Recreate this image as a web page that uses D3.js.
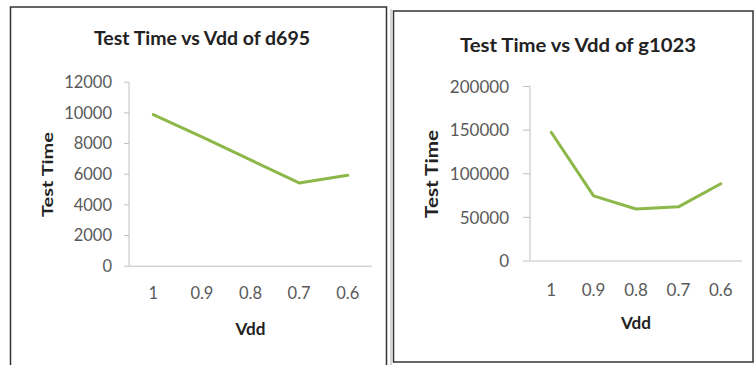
<!DOCTYPE html>
<html>
<head>
<meta charset="utf-8">
<script src="https://cdn.jsdelivr.net/npm/d3@7"></script>
<style>
  html, body { margin: 0; padding: 0; background: #fff; }
  svg { display: block; }
  text { font-family: Lato, "Open Sans", sans-serif; }
</style>
</head>
<body>
<svg id="chart" width="755" height="365"></svg>
<script>
// Supply voltage steps shared by both panels
const categories = ["1", "0.9", "0.8", "0.7", "0.6"];

// Test time per Vdd for circuit d695
const d695Values = [9850, 8400, 6900, 5400, 5900];
const d695Ticks = [0, 2000, 4000, 6000, 8000, 10000, 12000];

// Test time per Vdd for circuit g1023
const g1023Values = [147000, 74000, 59000, 61500, 88000];
const g1023Ticks = [0, 50000, 100000, 150000, 200000];

const titles = ["Test Time vs Vdd of d695", "Test Time vs Vdd of g1023"];
const yAxisTitle = "Test Time";
const xAxisTitle = "Vdd";

const LINE = "#8cb84a";
const AXIS = "#c0c0c0";
const TICKTXT = "#595959";
const DARK = "#222";

const svg = d3.select("#chart");

// Panel frames
const frames = svg.append("g").attr("fill", "none");
frames.append("path").attr("d", "M10.5,380 V7 H386.5 V380")
  .attr("stroke", "#333").attr("stroke-width", 1.5);
frames.append("line").attr("x1", 391).attr("x2", 391).attr("y1", 9).attr("y2", 365)
  .attr("stroke", "#aaa").attr("stroke-width", 1);
frames.append("rect").attr("x", 393.5).attr("y", 11).attr("width", 359.5).attr("height", 351)
  .attr("stroke", "#333").attr("stroke-width", 1.5);

function drawPanel(opt) {
  const g = svg.append("g");

  const x = d3.scaleBand().domain(categories).range([opt.x0, opt.x1]);
  const y = d3.scaleLinear().domain([0, opt.ticks[opt.ticks.length - 1]]).range([opt.y0, opt.y1]);

  // y axis with ticks pointing outwards
  const yAxis = d3.axisLeft(y).tickValues(opt.ticks).tickSize(opt.tickLen).tickPadding(opt.tickPad)
    .tickFormat(d3.format("d"));
  const ya = g.append("g").attr("transform", `translate(${opt.x0},0)`).call(yAxis);
  ya.select(".domain").attr("stroke", AXIS).attr("d", `M0,${opt.y1 + 0.5}V${opt.y0}`);
  ya.selectAll(".tick line").attr("stroke", AXIS).attr("x2", -opt.tickLen);
  ya.selectAll(".tick text").attr("fill", TICKTXT).attr("font-size", opt.tickFont)
    .attr("dy", "0.36em");

  // category axis, labels only
  const xAxis = d3.axisBottom(x).tickSize(0).tickPadding(opt.xPad);
  const xa = g.append("g").attr("transform", `translate(0,${opt.y0})`).call(xAxis);
  xa.select(".domain").attr("stroke", AXIS).attr("d", `M${opt.x0},0.5H${opt.x1}`);
  xa.selectAll(".tick text").attr("fill", TICKTXT).attr("font-size", opt.tickFont);

  // series line
  const line = d3.line()
    .x((d, i) => x(categories[i]) + x.bandwidth() / 2)
    .y(d => y(d));
  g.append("path").datum(opt.values)
    .attr("d", line)
    .attr("fill", "none")
    .attr("stroke", LINE)
    .attr("stroke-width", 3)
    .attr("stroke-linejoin", "round")
    .attr("stroke-linecap", "round");

  // chart title
  g.append("text").text(opt.title)
    .attr("x", opt.titleX).attr("y", opt.titleY)
    .attr("text-anchor", "middle").attr("font-weight", "bold")
    .attr("font-size", opt.titleFont).attr("fill", DARK)
    .attr("textLength", opt.titleLen).attr("lengthAdjust", "spacingAndGlyphs");

  // y axis title
  g.append("text").text(yAxisTitle)
    .attr("transform", `translate(${opt.yTitleX},${opt.yTitleY}) rotate(-90)`)
    .attr("text-anchor", "middle").attr("font-weight", "bold")
    .attr("font-size", opt.axisFont).attr("fill", DARK)
    .attr("textLength", opt.yTitleLen).attr("lengthAdjust", "spacingAndGlyphs");

  // x axis title
  g.append("text").text(xAxisTitle)
    .attr("x", (opt.x0 + opt.x1) / 2).attr("y", opt.xTitleY)
    .attr("text-anchor", "middle").attr("font-weight", "bold")
    .attr("font-size", opt.axisFont + 1).attr("fill", DARK)
    .attr("textLength", 30).attr("lengthAdjust", "spacingAndGlyphs");
}

drawPanel({
  values: d695Values, ticks: d695Ticks, title: titles[0],
  x0: 129, x1: 372, y0: 265.7, y1: 81.7,
  tickLen: 5, tickPad: 12, xPad: 22, tickFont: 16.5,
  titleX: 202, titleY: 45, titleFont: 18.5, titleLen: 216,
  yTitleX: 53, yTitleY: 174.5, yTitleLen: 85, axisFont: 16,
  xTitleY: 335
});

drawPanel({
  values: g1023Values, ticks: g1023Ticks, title: titles[1],
  x0: 530, x1: 742, y0: 260.5, y1: 86,
  tickLen: 7, tickPad: 14, xPad: 23, tickFont: 17,
  titleX: 578, titleY: 51.5, titleFont: 19.5, titleLen: 236,
  yTitleX: 438, yTitleY: 174, yTitleLen: 88, axisFont: 16.5,
  xTitleY: 329
});
</script>
</body>
</html>
